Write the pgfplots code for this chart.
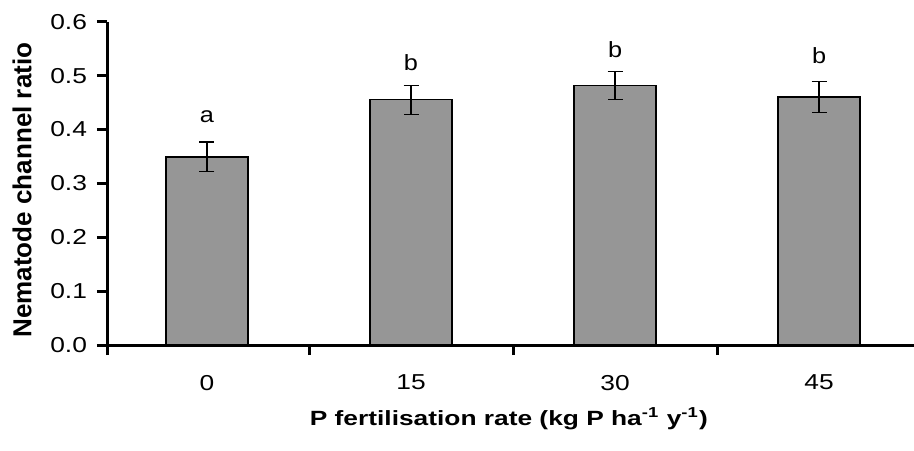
\documentclass[border=0pt]{standalone}
\usepackage{fontspec}
\setmainfont{Liberation Sans}
\usepackage{graphicx}
\usepackage{pgfplots}
\pgfplotsset{compat=1.18}
\definecolor{bargray}{RGB}{150,150,150}
\newcommand{\wide}[1]{\scalebox{1.22}[1]{#1}}
\begin{document}
\begin{tikzpicture}
\begin{axis}[
  scale only axis, width=403.5pt, height=161.65pt,
  xmin=-0.49, xmax=3.465, ymin=0, ymax=0.6,
  axis lines=left,
  axis line style={-, line width=1.5pt, black},
  tick align=outside,
  major tick length=5pt, minor tick length=5pt,
  tick style={line width=1.5pt, black},
  xtick={0,1,2,3}, xticklabels={\wide{0},\wide{15},\wide{30},\wide{45}},
  minor xtick={-0.49,0.5,1.5,2.5},
  major x tick style={draw=none},
  ytick={0,0.1,0.2,0.3,0.4,0.5,0.6},
  yticklabels={\wide{0.0},\wide{0.1},\wide{0.2},\wide{0.3},\wide{0.4},\wide{0.5},\wide{0.6}},
  ticklabel style={font=\fontsize{10.8}{12}\selectfont},
  xticklabel style={yshift=-6.5pt},
  yticklabel style={xshift=-1.5pt},
  ylabel={\resizebox{147.5pt}{\height}{Nematode channel ratio}},
  xlabel={\resizebox{199pt}{\height}{P fertilisation rate (kg P ha\textsuperscript{-1} y\textsuperscript{-1})}},
  every axis y label/.style={at={(axis description cs:-0.1053,0.479)}, rotate=90, anchor=center,
    font=\fontsize{13}{14}\selectfont\bfseries},
  every axis x label/.style={at={(axis description cs:0.498,-0.2475)}, anchor=base,
    font=\fontsize{10.3}{13}\selectfont\bfseries},
  clip=false,
]
\addplot[ybar, bar width=41pt, fill=bargray, draw=black, line width=0.65pt,
  error bars/.cd, y dir=both, y explicit,
  error bar style={line width=0.65pt, black},
  error mark options={rotate=90, mark size=3.75pt, line width=0.65pt, black}]
  coordinates {(0,0.349) +- (0,0.0275) (1,0.455) +- (0,0.027) (2,0.481) +- (0,0.026) (3,0.460) +- (0,0.029)};
\coordinate (bl) at (rel axis cs:0,0);
\node[anchor=base, inner sep=0pt, font=\fontsize{11}{12}\selectfont] at (axis cs:0,0.413) {\scalebox{1.15}[1]{a}};
\node[anchor=base, inner sep=0pt, font=\fontsize{11}{12}\selectfont] at (axis cs:1,0.510) {\scalebox{1.15}[1]{b}};
\node[anchor=base, inner sep=0pt, font=\fontsize{11}{12}\selectfont] at (axis cs:2,0.534) {\scalebox{1.15}[1]{b}};
\node[anchor=base, inner sep=0pt, font=\fontsize{11}{12}\selectfont] at (axis cs:3,0.523) {\scalebox{1.15}[1]{b}};
\end{axis}
\pgfresetboundingbox
\path (bl) ++(-53.5pt,-52.5pt) rectangle ++(457pt,225pt);
\end{tikzpicture}
\end{document}
